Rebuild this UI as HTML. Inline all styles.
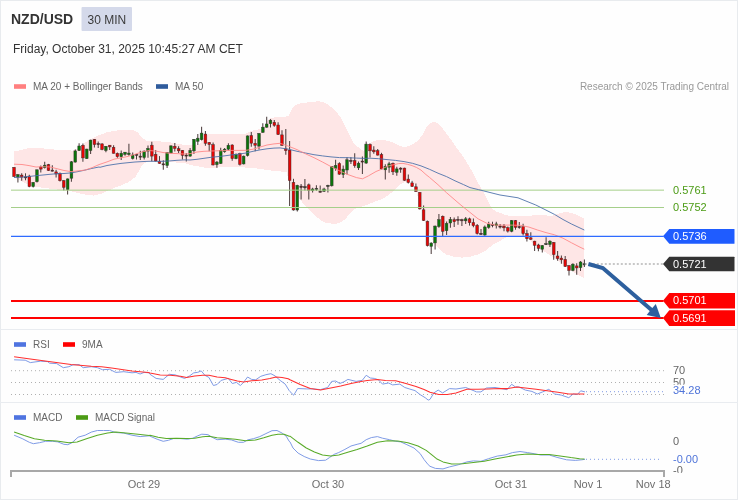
<!DOCTYPE html>
<html><head><meta charset="utf-8"><title>NZD/USD</title>
<style>
html,body{margin:0;padding:0;background:#fff;}
svg{display:block}
text{font-family:"Liberation Sans", Arial, sans-serif;}
svg{will-change:transform;opacity:0.999}
</style></head><body>
<svg width="738" height="500" viewBox="0 0 738 500">
<defs><clipPath id="cm"><rect x="0" y="403" width="738" height="69.8"/></clipPath></defs>
<rect x="0" y="0" width="738" height="500" fill="#fefefe"/>
<rect x="0.5" y="0.5" width="737" height="499" fill="none" stroke="#e8ebee" stroke-width="1"/>

<text x="11" y="24" font-size="14" font-weight="bold" fill="#333">NZD/USD</text>
<rect x="81.5" y="7" width="50.5" height="24" rx="1" fill="#d4d9ea"/>
<text x="87.5" y="23.5" font-size="12" fill="#3a3a3a">30 MIN</text>
<text x="13" y="53" font-size="12" fill="#333">Friday, October 31, 2025 10:45:27 AM CET</text>
<rect x="14" y="84.2" width="12" height="4.6" fill="#ff7f7f"/>
<text x="33" y="90" font-size="10" fill="#666">MA 20 + Bollinger Bands</text>
<rect x="156" y="84.2" width="12" height="4.6" fill="#2f5b9c"/>
<text x="175" y="90" font-size="10" fill="#666">MA 50</text>
<text x="729" y="90" font-size="10" fill="#999" text-anchor="end">Research © 2025 Trading Central</text>
<path d="M14.1 151 L19.5 150.5 L24.4 149 L28 148.2 L34 147.9 L40 148 L49.5 149.2 L59 149.9 L68.5 150.4 L73.2 150.6 L78 148.3 L86.7 141.4 L97.6 135.6 L107 132.3 L114 130.9 L121 130.1 L128 129.8 L133.6 130.2 L137.8 132.6 L142 137.5 L146.2 140.7 L156 141 L170 142.4 L184 144.9 L197 145.5 L200 144 L204 137 L208 134.5 L215 134 L225.9 133.6 L236.7 133.6 L245.4 133.8 L250 131.5 L255 130 L260 129 L263 128.5 L265.5 125 L268 120.5 L270.5 118 L276 117.2 L283 116.8 L287.5 116.3 L288.6 116 L290.6 111.3 L293.8 106.1 L297.9 103.9 L304.4 102.8 L312.5 101.8 L319 101.2 L323.9 102.3 L327.2 103.9 L332 107.7 L335.3 110.4 L338.5 114.5 L341.8 119.4 L345 125.9 L348.3 132.4 L350.7 137.6 L353.2 142.2 L355.6 145.1 L358 147 L361.3 149.5 L363.7 151 L366.2 147 L368.6 143.8 L371 142.2 L375.9 140.4 L380.8 140.2 L385.7 140.5 L393.8 142.6 L399.9 146.1 L404.8 147.1 L411.3 145 L417.8 140.9 L422.6 134.4 L426.7 127.1 L430 123.3 L434 121.7 L438.1 123.3 L442.2 127.9 L447 134.4 L451.9 140.9 L456.8 148.2 L461.7 154.7 L466.5 162 L471.4 170.2 L476.3 179.9 L481.2 188 L482.6 190.6 L487.9 201.1 L492.3 209 L496.7 211.7 L503.7 214.3 L510.8 216.1 L517.8 216.1 L526.6 216.1 L535.4 215.2 L544.2 215.2 L551.3 216.1 L556.5 214.3 L563.6 212.2 L570.6 212.6 L577.7 215.2 L584.4 218.5 L584.5 278.7 L575.5 273.3 L564.7 265 L554 258 L543 250.7 L536 245.3 L528.7 239.5 L520 236 L509.1 236.5 L504.2 238.1 L499.3 241.3 L492.8 244.6 L486.3 250.3 L478.2 254.3 L470 256.8 L461.9 257.6 L453.8 256.8 L445.7 254.3 L441.6 251.1 L437.5 247 L433.4 242 L428 231 L422.6 213 L417.2 195 L415 185 L412.5 180 L408 180.6 L405.2 181.8 L401.4 183.7 L397.6 186.6 L392 192.3 L389.1 194.5 L384.4 198 L374.9 201.7 L365.4 205.5 L355.9 208.4 L353 210.3 L350.2 213.1 L347.4 216.5 L344.5 219.8 L340.7 222.2 L336.9 223.6 L331.2 223.6 L325.5 222.6 L321.7 220.7 L318 217.9 L313.2 214.1 L308.5 209.3 L300.9 200.8 L296 194.5 L291.4 186.6 L288.5 179 L286.6 172.5 L280.1 171.3 L269.2 170.4 L258.4 168.7 L247.6 167.6 L236.7 167.2 L225.9 167.2 L215 167.6 L204.2 167.6 L193.4 165.5 L184 163.1 L170 162 L156 161.7 L146.2 162 L142 165.5 L139.2 170.4 L135 177.4 L128 182.3 L121 185.5 L114 188 L108.4 190.5 L101.9 193.5 L93.2 195.6 L82.4 194.1 L71.5 191.3 L54.2 189.1 L36.9 187 L32 185.8 L26 183.5 L20 180.5 L14.1 177.5 Z" fill="#fee6e6" stroke="none" shape-rendering="crispEdges"/>
<line x1="14" x2="14" y1="167" y2="176.8" stroke="#4f4040" stroke-width="1.05"/>
<rect x="12.7" y="167.4" width="2.7" height="9.1" fill="#e60505" stroke="#332a2a" stroke-width="0.55" stroke-opacity="0.8"/>
<line x1="17.9" x2="17.9" y1="174" y2="182.4" stroke="#4f4040" stroke-width="1.05"/>
<rect x="16.5" y="174.7" width="2.7" height="2.4" fill="#0a750a" stroke="#332a2a" stroke-width="0.55" stroke-opacity="0.8"/>
<line x1="21.7" x2="21.7" y1="173.3" y2="180.7" stroke="#4f4040" stroke-width="1.05"/>
<rect x="20.3" y="175.1" width="2.7" height="2" fill="#e60505" stroke="#332a2a" stroke-width="0.55" stroke-opacity="0.8"/>
<line x1="25.5" x2="25.5" y1="173.3" y2="180.3" stroke="#4f4040" stroke-width="1.05"/>
<rect x="24.2" y="176.8" width="2.7" height="1.1" fill="#5a2626" stroke="#332a2a" stroke-width="0.55" stroke-opacity="0.8"/>
<line x1="29.3" x2="29.3" y1="174.7" y2="187.3" stroke="#4f4040" stroke-width="1.05"/>
<rect x="28" y="176.1" width="2.7" height="10.5" fill="#e60505" stroke="#332a2a" stroke-width="0.55" stroke-opacity="0.8"/>
<line x1="33.2" x2="33.2" y1="182.1" y2="187.6" stroke="#4f4040" stroke-width="1.05"/>
<rect x="31.8" y="182.4" width="2.7" height="4.2" fill="#0a750a" stroke="#332a2a" stroke-width="0.55" stroke-opacity="0.8"/>
<line x1="37" x2="37" y1="169.5" y2="182.4" stroke="#4f4040" stroke-width="1.05"/>
<rect x="35.6" y="169.8" width="2.7" height="11.9" fill="#0a750a" stroke="#332a2a" stroke-width="0.55" stroke-opacity="0.8"/>
<line x1="40.8" x2="40.8" y1="165.6" y2="172.6" stroke="#4f4040" stroke-width="1.05"/>
<rect x="39.5" y="167" width="2.7" height="2.1" fill="#e60505" stroke="#332a2a" stroke-width="0.55" stroke-opacity="0.8"/>
<line x1="44.7" x2="44.7" y1="161.7" y2="168.4" stroke="#4f4040" stroke-width="1.05"/>
<rect x="43.3" y="165.2" width="2.7" height="2.5" fill="#0a750a" stroke="#332a2a" stroke-width="0.55" stroke-opacity="0.8"/>
<line x1="48.5" x2="48.5" y1="163.9" y2="170.9" stroke="#4f4040" stroke-width="1.05"/>
<rect x="47.1" y="164.6" width="2.7" height="5.9" fill="#e60505" stroke="#332a2a" stroke-width="0.55" stroke-opacity="0.8"/>
<line x1="52.3" x2="52.3" y1="165.3" y2="171.5" stroke="#4f4040" stroke-width="1.05"/>
<rect x="51" y="170.1" width="2.7" height="1.1" fill="#5a2626" stroke="#332a2a" stroke-width="0.55" stroke-opacity="0.8"/>
<line x1="56.1" x2="56.1" y1="169.8" y2="177.5" stroke="#4f4040" stroke-width="1.05"/>
<rect x="54.8" y="171.9" width="2.7" height="2.1" fill="#e60505" stroke="#332a2a" stroke-width="0.55" stroke-opacity="0.8"/>
<line x1="60" x2="60" y1="172.6" y2="181.4" stroke="#4f4040" stroke-width="1.05"/>
<rect x="58.6" y="173.3" width="2.7" height="7.4" fill="#e60505" stroke="#332a2a" stroke-width="0.55" stroke-opacity="0.8"/>
<line x1="63.8" x2="63.8" y1="180" y2="190.5" stroke="#4f4040" stroke-width="1.05"/>
<rect x="62.4" y="180.7" width="2.7" height="6.6" fill="#e60505" stroke="#332a2a" stroke-width="0.55" stroke-opacity="0.8"/>
<line x1="67.6" x2="67.6" y1="178.6" y2="194.6" stroke="#4f4040" stroke-width="1.05"/>
<rect x="66.3" y="178.9" width="2.7" height="10.8" fill="#0a750a" stroke="#332a2a" stroke-width="0.55" stroke-opacity="0.8"/>
<line x1="71.4" x2="71.4" y1="161.1" y2="181.7" stroke="#4f4040" stroke-width="1.05"/>
<rect x="70.1" y="161.8" width="2.7" height="16.4" fill="#0a750a" stroke="#332a2a" stroke-width="0.55" stroke-opacity="0.8"/>
<line x1="75.3" x2="75.3" y1="149.5" y2="162.5" stroke="#4f4040" stroke-width="1.05"/>
<rect x="73.9" y="150.9" width="2.7" height="11.2" fill="#0a750a" stroke="#332a2a" stroke-width="0.55" stroke-opacity="0.8"/>
<line x1="79.1" x2="79.1" y1="143.2" y2="150.9" stroke="#4f4040" stroke-width="1.05"/>
<rect x="77.8" y="146" width="2.7" height="4.5" fill="#0a750a" stroke="#332a2a" stroke-width="0.55" stroke-opacity="0.8"/>
<line x1="82.9" x2="82.9" y1="143.5" y2="161.7" stroke="#4f4040" stroke-width="1.05"/>
<rect x="81.6" y="145.3" width="2.7" height="12.6" fill="#e60505" stroke="#332a2a" stroke-width="0.55" stroke-opacity="0.8"/>
<line x1="86.8" x2="86.8" y1="148.8" y2="159" stroke="#4f4040" stroke-width="1.05"/>
<rect x="85.4" y="149.1" width="2.7" height="9.5" fill="#0a750a" stroke="#332a2a" stroke-width="0.55" stroke-opacity="0.8"/>
<line x1="90.6" x2="90.6" y1="139.8" y2="154" stroke="#4f4040" stroke-width="1.05"/>
<rect x="89.2" y="140.1" width="2.7" height="10.4" fill="#0a750a" stroke="#332a2a" stroke-width="0.55" stroke-opacity="0.8"/>
<line x1="94.4" x2="94.4" y1="139" y2="147.4" stroke="#4f4040" stroke-width="1.05"/>
<rect x="93.1" y="139.4" width="2.7" height="5.2" fill="#e60505" stroke="#332a2a" stroke-width="0.55" stroke-opacity="0.8"/>
<line x1="98.2" x2="98.2" y1="141.4" y2="148.1" stroke="#4f4040" stroke-width="1.05"/>
<rect x="96.9" y="143.5" width="2.7" height="1.1" fill="#5a2626" stroke="#332a2a" stroke-width="0.55" stroke-opacity="0.8"/>
<line x1="102.1" x2="102.1" y1="143.2" y2="150.2" stroke="#4f4040" stroke-width="1.05"/>
<rect x="100.7" y="143.9" width="2.7" height="5.6" fill="#e60505" stroke="#332a2a" stroke-width="0.55" stroke-opacity="0.8"/>
<line x1="105.9" x2="105.9" y1="146" y2="152.3" stroke="#4f4040" stroke-width="1.05"/>
<rect x="104.5" y="146.3" width="2.7" height="4.2" fill="#0a750a" stroke="#332a2a" stroke-width="0.55" stroke-opacity="0.8"/>
<line x1="109.7" x2="109.7" y1="144.9" y2="150.1" stroke="#4f4040" stroke-width="1.05"/>
<rect x="108.4" y="145.2" width="2.7" height="1.7" fill="#e60505" stroke="#332a2a" stroke-width="0.55" stroke-opacity="0.8"/>
<line x1="113.6" x2="113.6" y1="145.2" y2="153.6" stroke="#4f4040" stroke-width="1.05"/>
<rect x="112.2" y="147.3" width="2.7" height="6" fill="#e60505" stroke="#332a2a" stroke-width="0.55" stroke-opacity="0.8"/>
<line x1="117.4" x2="117.4" y1="152.5" y2="157.8" stroke="#4f4040" stroke-width="1.05"/>
<rect x="116" y="153.3" width="2.7" height="3.4" fill="#e60505" stroke="#332a2a" stroke-width="0.55" stroke-opacity="0.8"/>
<line x1="121.2" x2="121.2" y1="150.5" y2="159.9" stroke="#4f4040" stroke-width="1.05"/>
<rect x="119.9" y="153.3" width="2.7" height="3.4" fill="#0a750a" stroke="#332a2a" stroke-width="0.55" stroke-opacity="0.8"/>
<line x1="125" x2="125" y1="151.9" y2="155.7" stroke="#4f4040" stroke-width="1.05"/>
<rect x="123.7" y="152.2" width="2.7" height="2.1" fill="#0a750a" stroke="#332a2a" stroke-width="0.55" stroke-opacity="0.8"/>
<line x1="128.9" x2="128.9" y1="143.8" y2="155.7" stroke="#4f4040" stroke-width="1.05"/>
<rect x="127.5" y="153.1" width="2.7" height="1.4" fill="#0a750a" stroke="#332a2a" stroke-width="0.55" stroke-opacity="0.8"/>
<line x1="132.7" x2="132.7" y1="152.5" y2="159.5" stroke="#4f4040" stroke-width="1.05"/>
<rect x="131.3" y="155" width="2.7" height="3.5" fill="#0a750a" stroke="#332a2a" stroke-width="0.55" stroke-opacity="0.8"/>
<line x1="136.5" x2="136.5" y1="153.9" y2="159.5" stroke="#4f4040" stroke-width="1.05"/>
<rect x="135.2" y="154.3" width="2.7" height="1.1" fill="#5a2626" stroke="#332a2a" stroke-width="0.55" stroke-opacity="0.8"/>
<line x1="140.3" x2="140.3" y1="150.8" y2="159.9" stroke="#4f4040" stroke-width="1.05"/>
<rect x="139" y="156.1" width="2.7" height="1.1" fill="#5a2626" stroke="#332a2a" stroke-width="0.55" stroke-opacity="0.8"/>
<line x1="144.2" x2="144.2" y1="150.5" y2="159.6" stroke="#4f4040" stroke-width="1.05"/>
<rect x="142.8" y="151.1" width="2.7" height="6.4" fill="#0a750a" stroke="#332a2a" stroke-width="0.55" stroke-opacity="0.8"/>
<line x1="148" x2="148" y1="145.5" y2="157.8" stroke="#4f4040" stroke-width="1.05"/>
<rect x="146.6" y="148.4" width="2.7" height="2.7" fill="#0a750a" stroke="#332a2a" stroke-width="0.55" stroke-opacity="0.8"/>
<line x1="151.8" x2="151.8" y1="141.7" y2="161.3" stroke="#4f4040" stroke-width="1.05"/>
<rect x="150.5" y="145.2" width="2.7" height="10.9" fill="#e60505" stroke="#332a2a" stroke-width="0.55" stroke-opacity="0.8"/>
<line x1="155.7" x2="155.7" y1="150.1" y2="161.5" stroke="#4f4040" stroke-width="1.05"/>
<rect x="154.3" y="154.3" width="2.7" height="6.7" fill="#e60505" stroke="#332a2a" stroke-width="0.55" stroke-opacity="0.8"/>
<line x1="159.5" x2="159.5" y1="156.1" y2="163.7" stroke="#4f4040" stroke-width="1.05"/>
<rect x="158.1" y="161.3" width="2.7" height="2.1" fill="#e60505" stroke="#332a2a" stroke-width="0.55" stroke-opacity="0.8"/>
<line x1="163.3" x2="163.3" y1="160.3" y2="169.7" stroke="#4f4040" stroke-width="1.05"/>
<rect x="162" y="163.8" width="2.7" height="1.1" fill="#5a2626" stroke="#332a2a" stroke-width="0.55" stroke-opacity="0.8"/>
<line x1="167.1" x2="167.1" y1="152.2" y2="167.9" stroke="#4f4040" stroke-width="1.05"/>
<rect x="165.8" y="152.5" width="2.7" height="13" fill="#0a750a" stroke="#332a2a" stroke-width="0.55" stroke-opacity="0.8"/>
<line x1="171" x2="171" y1="145.2" y2="153.6" stroke="#4f4040" stroke-width="1.05"/>
<rect x="169.6" y="145.9" width="2.7" height="7" fill="#0a750a" stroke="#332a2a" stroke-width="0.55" stroke-opacity="0.8"/>
<line x1="174.8" x2="174.8" y1="143.1" y2="151.5" stroke="#4f4040" stroke-width="1.05"/>
<rect x="173.4" y="146.3" width="2.7" height="2.1" fill="#e60505" stroke="#332a2a" stroke-width="0.55" stroke-opacity="0.8"/>
<line x1="178.6" x2="178.6" y1="146.3" y2="152.9" stroke="#4f4040" stroke-width="1.05"/>
<rect x="177.3" y="148.7" width="2.7" height="2.1" fill="#e60505" stroke="#332a2a" stroke-width="0.55" stroke-opacity="0.8"/>
<line x1="182.4" x2="182.4" y1="150.1" y2="159.5" stroke="#4f4040" stroke-width="1.05"/>
<rect x="181.1" y="150.4" width="2.7" height="4.9" fill="#e60505" stroke="#332a2a" stroke-width="0.55" stroke-opacity="0.8"/>
<line x1="186.3" x2="186.3" y1="152.9" y2="161.6" stroke="#4f4040" stroke-width="1.05"/>
<rect x="184.9" y="155" width="2.7" height="1.1" fill="#5a2626" stroke="#332a2a" stroke-width="0.55" stroke-opacity="0.8"/>
<line x1="190.1" x2="190.1" y1="148" y2="156.8" stroke="#4f4040" stroke-width="1.05"/>
<rect x="188.8" y="150.4" width="2.7" height="5.7" fill="#0a750a" stroke="#332a2a" stroke-width="0.55" stroke-opacity="0.8"/>
<line x1="193.9" x2="193.9" y1="139" y2="153.9" stroke="#4f4040" stroke-width="1.05"/>
<rect x="192.6" y="139.3" width="2.7" height="11.5" fill="#0a750a" stroke="#332a2a" stroke-width="0.55" stroke-opacity="0.8"/>
<line x1="197.8" x2="197.8" y1="134" y2="144.9" stroke="#4f4040" stroke-width="1.05"/>
<rect x="196.4" y="138.2" width="2.7" height="3.1" fill="#0a750a" stroke="#332a2a" stroke-width="0.55" stroke-opacity="0.8"/>
<line x1="201.6" x2="201.6" y1="126.8" y2="140.5" stroke="#4f4040" stroke-width="1.05"/>
<rect x="200.2" y="133.1" width="2.7" height="6.6" fill="#0a750a" stroke="#332a2a" stroke-width="0.55" stroke-opacity="0.8"/>
<line x1="205.4" x2="205.4" y1="131" y2="145.7" stroke="#4f4040" stroke-width="1.05"/>
<rect x="204.1" y="134.1" width="2.7" height="9.2" fill="#e60505" stroke="#332a2a" stroke-width="0.55" stroke-opacity="0.8"/>
<line x1="209.2" x2="209.2" y1="141.9" y2="151.3" stroke="#4f4040" stroke-width="1.05"/>
<rect x="207.9" y="142.5" width="2.7" height="2" fill="#e60505" stroke="#332a2a" stroke-width="0.55" stroke-opacity="0.8"/>
<line x1="213.1" x2="213.1" y1="142.5" y2="165.5" stroke="#4f4040" stroke-width="1.05"/>
<rect x="211.7" y="144.7" width="2.7" height="20.2" fill="#e60505" stroke="#332a2a" stroke-width="0.55" stroke-opacity="0.8"/>
<line x1="216.9" x2="216.9" y1="161.1" y2="167.7" stroke="#4f4040" stroke-width="1.05"/>
<rect x="215.5" y="162.1" width="2.7" height="2.5" fill="#0a750a" stroke="#332a2a" stroke-width="0.55" stroke-opacity="0.8"/>
<line x1="220.7" x2="220.7" y1="147.8" y2="163.9" stroke="#4f4040" stroke-width="1.05"/>
<rect x="219.4" y="150.3" width="2.7" height="13.2" fill="#0a750a" stroke="#332a2a" stroke-width="0.55" stroke-opacity="0.8"/>
<line x1="224.6" x2="224.6" y1="148.1" y2="152.7" stroke="#4f4040" stroke-width="1.05"/>
<rect x="223.2" y="149.2" width="2.7" height="2.5" fill="#0a750a" stroke="#332a2a" stroke-width="0.55" stroke-opacity="0.8"/>
<line x1="228.4" x2="228.4" y1="143.3" y2="150.6" stroke="#4f4040" stroke-width="1.05"/>
<rect x="227" y="145.3" width="2.7" height="3.9" fill="#0a750a" stroke="#332a2a" stroke-width="0.55" stroke-opacity="0.8"/>
<line x1="232.2" x2="232.2" y1="144.3" y2="160.7" stroke="#4f4040" stroke-width="1.05"/>
<rect x="230.9" y="145" width="2.7" height="13.6" fill="#e60505" stroke="#332a2a" stroke-width="0.55" stroke-opacity="0.8"/>
<line x1="236" x2="236" y1="153.4" y2="159.3" stroke="#4f4040" stroke-width="1.05"/>
<rect x="234.7" y="154.5" width="2.7" height="4.2" fill="#0a750a" stroke="#332a2a" stroke-width="0.55" stroke-opacity="0.8"/>
<line x1="239.9" x2="239.9" y1="152.7" y2="165.6" stroke="#4f4040" stroke-width="1.05"/>
<rect x="238.5" y="153.7" width="2.7" height="10.6" fill="#e60505" stroke="#332a2a" stroke-width="0.55" stroke-opacity="0.8"/>
<line x1="243.7" x2="243.7" y1="155.5" y2="164.6" stroke="#4f4040" stroke-width="1.05"/>
<rect x="242.3" y="156.2" width="2.7" height="7.7" fill="#0a750a" stroke="#332a2a" stroke-width="0.55" stroke-opacity="0.8"/>
<line x1="247.5" x2="247.5" y1="135.5" y2="156.5" stroke="#4f4040" stroke-width="1.05"/>
<rect x="246.2" y="135.9" width="2.7" height="19.6" fill="#0a750a" stroke="#332a2a" stroke-width="0.55" stroke-opacity="0.8"/>
<line x1="251.3" x2="251.3" y1="132" y2="146.7" stroke="#4f4040" stroke-width="1.05"/>
<rect x="250" y="135.5" width="2.7" height="7.7" fill="#e60505" stroke="#332a2a" stroke-width="0.55" stroke-opacity="0.8"/>
<line x1="255.2" x2="255.2" y1="139.1" y2="151.3" stroke="#4f4040" stroke-width="1.05"/>
<rect x="253.8" y="143.3" width="2.7" height="2" fill="#e60505" stroke="#332a2a" stroke-width="0.55" stroke-opacity="0.8"/>
<line x1="259" x2="259" y1="133.1" y2="149.5" stroke="#4f4040" stroke-width="1.05"/>
<rect x="257.7" y="133.5" width="2.7" height="12.6" fill="#0a750a" stroke="#332a2a" stroke-width="0.55" stroke-opacity="0.8"/>
<line x1="262.8" x2="262.8" y1="123.3" y2="132.8" stroke="#4f4040" stroke-width="1.05"/>
<rect x="261.5" y="127.2" width="2.7" height="5.2" fill="#0a750a" stroke="#332a2a" stroke-width="0.55" stroke-opacity="0.8"/>
<line x1="266.7" x2="266.7" y1="116.7" y2="127.8" stroke="#4f4040" stroke-width="1.05"/>
<rect x="265.3" y="124" width="2.7" height="3.2" fill="#0a750a" stroke="#332a2a" stroke-width="0.55" stroke-opacity="0.8"/>
<line x1="270.5" x2="270.5" y1="119.1" y2="127.5" stroke="#4f4040" stroke-width="1.05"/>
<rect x="269.1" y="120.2" width="2.7" height="3.5" fill="#0a750a" stroke="#332a2a" stroke-width="0.55" stroke-opacity="0.8"/>
<line x1="274.3" x2="274.3" y1="120.1" y2="126.8" stroke="#4f4040" stroke-width="1.05"/>
<rect x="273" y="122.3" width="2.7" height="3.1" fill="#e60505" stroke="#332a2a" stroke-width="0.55" stroke-opacity="0.8"/>
<line x1="278.1" x2="278.1" y1="122.3" y2="134.9" stroke="#4f4040" stroke-width="1.05"/>
<rect x="276.8" y="125" width="2.7" height="9.5" fill="#e60505" stroke="#332a2a" stroke-width="0.55" stroke-opacity="0.8"/>
<line x1="282" x2="282" y1="130.3" y2="146.1" stroke="#4f4040" stroke-width="1.05"/>
<rect x="280.6" y="134.9" width="2.7" height="10.4" fill="#e60505" stroke="#332a2a" stroke-width="0.55" stroke-opacity="0.8"/>
<line x1="285.8" x2="285.8" y1="128.9" y2="154.8" stroke="#4f4040" stroke-width="1.05"/>
<rect x="284.4" y="148.9" width="2.7" height="1.7" fill="#e60505" stroke="#332a2a" stroke-width="0.55" stroke-opacity="0.8"/>
<line x1="289.6" x2="289.6" y1="141.1" y2="206" stroke="#4f4040" stroke-width="1.05"/>
<rect x="288.3" y="150.1" width="2.7" height="30.4" fill="#e60505" stroke="#332a2a" stroke-width="0.55" stroke-opacity="0.8"/>
<line x1="293.5" x2="293.5" y1="178.8" y2="210.6" stroke="#4f4040" stroke-width="1.05"/>
<rect x="292.1" y="182.4" width="2.7" height="27.6" fill="#e60505" stroke="#332a2a" stroke-width="0.55" stroke-opacity="0.8"/>
<line x1="297.3" x2="297.3" y1="184.8" y2="211.6" stroke="#4f4040" stroke-width="1.05"/>
<rect x="295.9" y="185.3" width="2.7" height="24.7" fill="#0a750a" stroke="#332a2a" stroke-width="0.55" stroke-opacity="0.8"/>
<line x1="301.1" x2="301.1" y1="184.1" y2="199.4" stroke="#4f4040" stroke-width="1.05"/>
<rect x="299.8" y="186.1" width="2.7" height="1.4" fill="#5a2626" stroke="#332a2a" stroke-width="0.55" stroke-opacity="0.8"/>
<line x1="304.9" x2="304.9" y1="179" y2="190.4" stroke="#4f4040" stroke-width="1.05"/>
<rect x="303.6" y="186.6" width="2.7" height="1.2" fill="#2c4a2c" stroke="#332a2a" stroke-width="0.55" stroke-opacity="0.8"/>
<line x1="308.8" x2="308.8" y1="183.6" y2="199.4" stroke="#4f4040" stroke-width="1.05"/>
<rect x="307.4" y="184.8" width="2.7" height="5.6" fill="#e60505" stroke="#332a2a" stroke-width="0.55" stroke-opacity="0.8"/>
<line x1="312.6" x2="312.6" y1="187.8" y2="192.4" stroke="#4f4040" stroke-width="1.05"/>
<rect x="311.2" y="189" width="2.7" height="1.7" fill="#0a750a" stroke="#332a2a" stroke-width="0.55" stroke-opacity="0.8"/>
<line x1="316.4" x2="316.4" y1="185.3" y2="190.9" stroke="#4f4040" stroke-width="1.05"/>
<rect x="315.1" y="188.3" width="2.7" height="1.1" fill="#2c4a2c" stroke="#332a2a" stroke-width="0.55" stroke-opacity="0.8"/>
<line x1="320.2" x2="320.2" y1="185.6" y2="192.6" stroke="#4f4040" stroke-width="1.05"/>
<rect x="318.9" y="191.2" width="2.7" height="1.1" fill="#5a2626" stroke="#332a2a" stroke-width="0.55" stroke-opacity="0.8"/>
<line x1="324.1" x2="324.1" y1="187.8" y2="192.1" stroke="#4f4040" stroke-width="1.05"/>
<rect x="322.7" y="189" width="2.7" height="2.2" fill="#0a750a" stroke="#332a2a" stroke-width="0.55" stroke-opacity="0.8"/>
<line x1="327.9" x2="327.9" y1="184.8" y2="192.6" stroke="#4f4040" stroke-width="1.05"/>
<rect x="326.6" y="185.3" width="2.7" height="1.2" fill="#2c4a2c" stroke="#332a2a" stroke-width="0.55" stroke-opacity="0.8"/>
<line x1="331.7" x2="331.7" y1="166.1" y2="186.5" stroke="#4f4040" stroke-width="1.05"/>
<rect x="330.4" y="166.6" width="2.7" height="19.2" fill="#0a750a" stroke="#332a2a" stroke-width="0.55" stroke-opacity="0.8"/>
<line x1="335.6" x2="335.6" y1="159.8" y2="170.8" stroke="#4f4040" stroke-width="1.05"/>
<rect x="334.2" y="165.4" width="2.7" height="2.9" fill="#0a750a" stroke="#332a2a" stroke-width="0.55" stroke-opacity="0.8"/>
<line x1="339.4" x2="339.4" y1="162.3" y2="174.7" stroke="#4f4040" stroke-width="1.05"/>
<rect x="338" y="163.5" width="2.7" height="10.7" fill="#e60505" stroke="#332a2a" stroke-width="0.55" stroke-opacity="0.8"/>
<line x1="343.2" x2="343.2" y1="165.4" y2="178" stroke="#4f4040" stroke-width="1.05"/>
<rect x="341.9" y="169.1" width="2.7" height="5.4" fill="#0a750a" stroke="#332a2a" stroke-width="0.55" stroke-opacity="0.8"/>
<line x1="347" x2="347" y1="157.2" y2="174.6" stroke="#4f4040" stroke-width="1.05"/>
<rect x="345.7" y="159.8" width="2.7" height="10.2" fill="#0a750a" stroke="#332a2a" stroke-width="0.55" stroke-opacity="0.8"/>
<line x1="350.9" x2="350.9" y1="157.2" y2="164" stroke="#4f4040" stroke-width="1.05"/>
<rect x="349.5" y="160.3" width="2.7" height="1.2" fill="#5a2626" stroke="#332a2a" stroke-width="0.55" stroke-opacity="0.8"/>
<line x1="354.7" x2="354.7" y1="153.3" y2="167.8" stroke="#4f4040" stroke-width="1.05"/>
<rect x="353.3" y="160.6" width="2.7" height="5.1" fill="#e60505" stroke="#332a2a" stroke-width="0.55" stroke-opacity="0.8"/>
<line x1="358.5" x2="358.5" y1="161.5" y2="170" stroke="#4f4040" stroke-width="1.05"/>
<rect x="357.2" y="163.2" width="2.7" height="4.6" fill="#0a750a" stroke="#332a2a" stroke-width="0.55" stroke-opacity="0.8"/>
<line x1="362.4" x2="362.4" y1="156.4" y2="173.9" stroke="#4f4040" stroke-width="1.05"/>
<rect x="361" y="161" width="2.7" height="1.1" fill="#5a2626" stroke="#332a2a" stroke-width="0.55" stroke-opacity="0.8"/>
<line x1="366.2" x2="366.2" y1="141.6" y2="163.7" stroke="#4f4040" stroke-width="1.05"/>
<rect x="364.8" y="144.1" width="2.7" height="19" fill="#0a750a" stroke="#332a2a" stroke-width="0.55" stroke-opacity="0.8"/>
<line x1="370" x2="370" y1="143.6" y2="157.4" stroke="#4f4040" stroke-width="1.05"/>
<rect x="368.7" y="144.5" width="2.7" height="6.3" fill="#e60505" stroke="#332a2a" stroke-width="0.55" stroke-opacity="0.8"/>
<line x1="373.8" x2="373.8" y1="146.2" y2="153.8" stroke="#4f4040" stroke-width="1.05"/>
<rect x="372.5" y="150.1" width="2.7" height="1.7" fill="#e60505" stroke="#332a2a" stroke-width="0.55" stroke-opacity="0.8"/>
<line x1="377.7" x2="377.7" y1="149" y2="155.5" stroke="#4f4040" stroke-width="1.05"/>
<rect x="376.3" y="150.7" width="2.7" height="4.4" fill="#e60505" stroke="#332a2a" stroke-width="0.55" stroke-opacity="0.8"/>
<line x1="381.5" x2="381.5" y1="152.8" y2="169.4" stroke="#4f4040" stroke-width="1.05"/>
<rect x="380.1" y="154.5" width="2.7" height="14.5" fill="#e60505" stroke="#332a2a" stroke-width="0.55" stroke-opacity="0.8"/>
<line x1="385.3" x2="385.3" y1="164.3" y2="179.5" stroke="#4f4040" stroke-width="1.05"/>
<rect x="384" y="166.4" width="2.7" height="3.4" fill="#0a750a" stroke="#332a2a" stroke-width="0.55" stroke-opacity="0.8"/>
<line x1="389.1" x2="389.1" y1="161.8" y2="172.7" stroke="#4f4040" stroke-width="1.05"/>
<rect x="387.8" y="163.8" width="2.7" height="3.4" fill="#0a750a" stroke="#332a2a" stroke-width="0.55" stroke-opacity="0.8"/>
<line x1="393" x2="393" y1="162.4" y2="174.9" stroke="#4f4040" stroke-width="1.05"/>
<rect x="391.6" y="163.3" width="2.7" height="8.5" fill="#e60505" stroke="#332a2a" stroke-width="0.55" stroke-opacity="0.8"/>
<line x1="396.8" x2="396.8" y1="166.7" y2="175.7" stroke="#4f4040" stroke-width="1.05"/>
<rect x="395.4" y="168.9" width="2.7" height="3.4" fill="#0a750a" stroke="#332a2a" stroke-width="0.55" stroke-opacity="0.8"/>
<line x1="400.6" x2="400.6" y1="167.2" y2="172.7" stroke="#4f4040" stroke-width="1.05"/>
<rect x="399.3" y="168.1" width="2.7" height="1.1" fill="#5a2626" stroke="#332a2a" stroke-width="0.55" stroke-opacity="0.8"/>
<line x1="404.5" x2="404.5" y1="167.7" y2="180.8" stroke="#4f4040" stroke-width="1.05"/>
<rect x="403.1" y="168.1" width="2.7" height="12.2" fill="#e60505" stroke="#332a2a" stroke-width="0.55" stroke-opacity="0.8"/>
<line x1="408.3" x2="408.3" y1="174.4" y2="183.4" stroke="#4f4040" stroke-width="1.05"/>
<rect x="406.9" y="179.1" width="2.7" height="3.4" fill="#e60505" stroke="#332a2a" stroke-width="0.55" stroke-opacity="0.8"/>
<line x1="412.1" x2="412.1" y1="180.8" y2="187.1" stroke="#4f4040" stroke-width="1.05"/>
<rect x="410.8" y="182.9" width="2.7" height="3.6" fill="#e60505" stroke="#332a2a" stroke-width="0.55" stroke-opacity="0.8"/>
<line x1="415.9" x2="415.9" y1="183.4" y2="191.9" stroke="#4f4040" stroke-width="1.05"/>
<rect x="414.6" y="186.8" width="2.7" height="4.6" fill="#e60505" stroke="#332a2a" stroke-width="0.55" stroke-opacity="0.8"/>
<line x1="419.8" x2="419.8" y1="191.9" y2="209.4" stroke="#4f4040" stroke-width="1.05"/>
<rect x="418.4" y="192.4" width="2.7" height="16.5" fill="#e60505" stroke="#332a2a" stroke-width="0.55" stroke-opacity="0.8"/>
<line x1="423.6" x2="423.6" y1="205.5" y2="221" stroke="#4f4040" stroke-width="1.05"/>
<rect x="422.2" y="209.8" width="2.7" height="10.7" fill="#e60505" stroke="#332a2a" stroke-width="0.55" stroke-opacity="0.8"/>
<line x1="427.4" x2="427.4" y1="220.5" y2="246.4" stroke="#4f4040" stroke-width="1.05"/>
<rect x="426.1" y="221.4" width="2.7" height="24.3" fill="#e60505" stroke="#332a2a" stroke-width="0.55" stroke-opacity="0.8"/>
<line x1="431.2" x2="431.2" y1="242.3" y2="254" stroke="#4f4040" stroke-width="1.05"/>
<rect x="429.9" y="243.1" width="2.7" height="3.2" fill="#0a750a" stroke="#332a2a" stroke-width="0.55" stroke-opacity="0.8"/>
<line x1="435.1" x2="435.1" y1="225.6" y2="249.4" stroke="#4f4040" stroke-width="1.05"/>
<rect x="433.7" y="226.1" width="2.7" height="16.8" fill="#0a750a" stroke="#332a2a" stroke-width="0.55" stroke-opacity="0.8"/>
<line x1="438.9" x2="438.9" y1="214" y2="227.7" stroke="#4f4040" stroke-width="1.05"/>
<rect x="437.6" y="219.7" width="2.7" height="6.8" fill="#0a750a" stroke="#332a2a" stroke-width="0.55" stroke-opacity="0.8"/>
<line x1="442.7" x2="442.7" y1="215.4" y2="236.2" stroke="#4f4040" stroke-width="1.05"/>
<rect x="441.4" y="216.3" width="2.7" height="15" fill="#e60505" stroke="#332a2a" stroke-width="0.55" stroke-opacity="0.8"/>
<line x1="446.6" x2="446.6" y1="221.4" y2="235" stroke="#4f4040" stroke-width="1.05"/>
<rect x="445.2" y="223.4" width="2.7" height="7.3" fill="#0a750a" stroke="#332a2a" stroke-width="0.55" stroke-opacity="0.8"/>
<line x1="450.4" x2="450.4" y1="217.1" y2="227.7" stroke="#4f4040" stroke-width="1.05"/>
<rect x="449" y="219.3" width="2.7" height="3.7" fill="#0a750a" stroke="#332a2a" stroke-width="0.55" stroke-opacity="0.8"/>
<line x1="454.2" x2="454.2" y1="217.4" y2="227" stroke="#4f4040" stroke-width="1.05"/>
<rect x="452.9" y="219.7" width="2.7" height="2" fill="#e60505" stroke="#332a2a" stroke-width="0.55" stroke-opacity="0.8"/>
<line x1="458" x2="458" y1="216.3" y2="224.8" stroke="#4f4040" stroke-width="1.05"/>
<rect x="456.7" y="219.3" width="2.7" height="1.1" fill="#5a2626" stroke="#332a2a" stroke-width="0.55" stroke-opacity="0.8"/>
<line x1="461.9" x2="461.9" y1="218.8" y2="226" stroke="#4f4040" stroke-width="1.05"/>
<rect x="460.5" y="219.7" width="2.7" height="1.1" fill="#5a2626" stroke="#332a2a" stroke-width="0.55" stroke-opacity="0.8"/>
<line x1="465.7" x2="465.7" y1="217.1" y2="223.9" stroke="#4f4040" stroke-width="1.05"/>
<rect x="464.3" y="218.8" width="2.7" height="2" fill="#0a750a" stroke="#332a2a" stroke-width="0.55" stroke-opacity="0.8"/>
<line x1="469.5" x2="469.5" y1="217.6" y2="225.6" stroke="#4f4040" stroke-width="1.05"/>
<rect x="468.2" y="218.8" width="2.7" height="3.9" fill="#e60505" stroke="#332a2a" stroke-width="0.55" stroke-opacity="0.8"/>
<line x1="473.4" x2="473.4" y1="218.5" y2="227.3" stroke="#4f4040" stroke-width="1.05"/>
<rect x="472" y="222.6" width="2.7" height="3.1" fill="#e60505" stroke="#332a2a" stroke-width="0.55" stroke-opacity="0.8"/>
<line x1="477.2" x2="477.2" y1="223.9" y2="234.5" stroke="#4f4040" stroke-width="1.05"/>
<rect x="475.8" y="225.3" width="2.7" height="8.3" fill="#e60505" stroke="#332a2a" stroke-width="0.55" stroke-opacity="0.8"/>
<line x1="481" x2="481" y1="229" y2="235" stroke="#4f4040" stroke-width="1.05"/>
<rect x="479.7" y="233.3" width="2.7" height="1.1" fill="#5a2626" stroke="#332a2a" stroke-width="0.55" stroke-opacity="0.8"/>
<line x1="484.8" x2="484.8" y1="225.6" y2="235.8" stroke="#4f4040" stroke-width="1.05"/>
<rect x="483.5" y="227" width="2.7" height="8" fill="#0a750a" stroke="#332a2a" stroke-width="0.55" stroke-opacity="0.8"/>
<line x1="488.7" x2="488.7" y1="221.7" y2="228.7" stroke="#4f4040" stroke-width="1.05"/>
<rect x="487.3" y="224.3" width="2.7" height="3.1" fill="#0a750a" stroke="#332a2a" stroke-width="0.55" stroke-opacity="0.8"/>
<line x1="492.5" x2="492.5" y1="221.7" y2="227.3" stroke="#4f4040" stroke-width="1.05"/>
<rect x="491.1" y="224.4" width="2.7" height="1.1" fill="#5a2626" stroke="#332a2a" stroke-width="0.55" stroke-opacity="0.8"/>
<line x1="496.3" x2="496.3" y1="221.7" y2="228.5" stroke="#4f4040" stroke-width="1.05"/>
<rect x="495" y="223.9" width="2.7" height="1.7" fill="#0a750a" stroke="#332a2a" stroke-width="0.55" stroke-opacity="0.8"/>
<line x1="500.1" x2="500.1" y1="223.9" y2="228.5" stroke="#4f4040" stroke-width="1.05"/>
<rect x="498.8" y="226" width="2.7" height="1.1" fill="#5a2626" stroke="#332a2a" stroke-width="0.55" stroke-opacity="0.8"/>
<line x1="504" x2="504" y1="223.9" y2="231.2" stroke="#4f4040" stroke-width="1.05"/>
<rect x="502.6" y="226.1" width="2.7" height="1.7" fill="#e60505" stroke="#332a2a" stroke-width="0.55" stroke-opacity="0.8"/>
<line x1="507.8" x2="507.8" y1="226.5" y2="232.4" stroke="#4f4040" stroke-width="1.05"/>
<rect x="506.5" y="227.7" width="2.7" height="3.4" fill="#e60505" stroke="#332a2a" stroke-width="0.55" stroke-opacity="0.8"/>
<line x1="511.6" x2="511.6" y1="220" y2="232.2" stroke="#4f4040" stroke-width="1.05"/>
<rect x="510.3" y="220.6" width="2.7" height="10.7" fill="#0a750a" stroke="#332a2a" stroke-width="0.55" stroke-opacity="0.8"/>
<line x1="515.5" x2="515.5" y1="220" y2="229.7" stroke="#4f4040" stroke-width="1.05"/>
<rect x="514.1" y="220.6" width="2.7" height="6.8" fill="#e60505" stroke="#332a2a" stroke-width="0.55" stroke-opacity="0.8"/>
<line x1="519.3" x2="519.3" y1="222" y2="228.8" stroke="#4f4040" stroke-width="1.05"/>
<rect x="517.9" y="226.6" width="2.7" height="1.1" fill="#5a2626" stroke="#332a2a" stroke-width="0.55" stroke-opacity="0.8"/>
<line x1="523.1" x2="523.1" y1="223.7" y2="235.6" stroke="#4f4040" stroke-width="1.05"/>
<rect x="521.8" y="226.6" width="2.7" height="7" fill="#e60505" stroke="#332a2a" stroke-width="0.55" stroke-opacity="0.8"/>
<line x1="526.9" x2="526.9" y1="229.7" y2="241.6" stroke="#4f4040" stroke-width="1.05"/>
<rect x="525.6" y="233.6" width="2.7" height="5.1" fill="#e60505" stroke="#332a2a" stroke-width="0.55" stroke-opacity="0.8"/>
<line x1="530.8" x2="530.8" y1="232.2" y2="239.9" stroke="#4f4040" stroke-width="1.05"/>
<rect x="529.4" y="237.8" width="2.7" height="1.5" fill="#e60505" stroke="#332a2a" stroke-width="0.55" stroke-opacity="0.8"/>
<line x1="534.6" x2="534.6" y1="240.7" y2="250.9" stroke="#4f4040" stroke-width="1.05"/>
<rect x="533.2" y="241.2" width="2.7" height="4.1" fill="#e60505" stroke="#332a2a" stroke-width="0.55" stroke-opacity="0.8"/>
<line x1="538.4" x2="538.4" y1="243.8" y2="251.3" stroke="#4f4040" stroke-width="1.05"/>
<rect x="537.1" y="245" width="2.7" height="3.4" fill="#e60505" stroke="#332a2a" stroke-width="0.55" stroke-opacity="0.8"/>
<line x1="542.3" x2="542.3" y1="245" y2="252.6" stroke="#4f4040" stroke-width="1.05"/>
<rect x="540.9" y="245.5" width="2.7" height="3.7" fill="#0a750a" stroke="#332a2a" stroke-width="0.55" stroke-opacity="0.8"/>
<line x1="546.1" x2="546.1" y1="237.3" y2="245" stroke="#4f4040" stroke-width="1.05"/>
<rect x="544.7" y="243.6" width="2.7" height="1.1" fill="#2c4a2c" stroke="#332a2a" stroke-width="0.55" stroke-opacity="0.8"/>
<line x1="549.9" x2="549.9" y1="240.2" y2="247" stroke="#4f4040" stroke-width="1.05"/>
<rect x="548.6" y="241.2" width="2.7" height="3.2" fill="#0a750a" stroke="#332a2a" stroke-width="0.55" stroke-opacity="0.8"/>
<line x1="553.7" x2="553.7" y1="241.9" y2="259.8" stroke="#4f4040" stroke-width="1.05"/>
<rect x="552.4" y="242.4" width="2.7" height="12.2" fill="#e60505" stroke="#332a2a" stroke-width="0.55" stroke-opacity="0.8"/>
<line x1="557.6" x2="557.6" y1="250.9" y2="260.8" stroke="#4f4040" stroke-width="1.05"/>
<rect x="556.2" y="256" width="2.7" height="2.6" fill="#e60505" stroke="#332a2a" stroke-width="0.55" stroke-opacity="0.8"/>
<line x1="561.4" x2="561.4" y1="255.5" y2="263.7" stroke="#4f4040" stroke-width="1.05"/>
<rect x="560" y="258.1" width="2.7" height="1.7" fill="#e60505" stroke="#332a2a" stroke-width="0.55" stroke-opacity="0.8"/>
<line x1="565.2" x2="565.2" y1="256" y2="267.1" stroke="#4f4040" stroke-width="1.05"/>
<rect x="563.9" y="259.4" width="2.7" height="7.1" fill="#e60505" stroke="#332a2a" stroke-width="0.55" stroke-opacity="0.8"/>
<line x1="569" x2="569" y1="264.9" y2="275.6" stroke="#4f4040" stroke-width="1.05"/>
<rect x="567.7" y="265.7" width="2.7" height="4.8" fill="#e60505" stroke="#332a2a" stroke-width="0.55" stroke-opacity="0.8"/>
<line x1="572.9" x2="572.9" y1="263.3" y2="271.3" stroke="#4f4040" stroke-width="1.05"/>
<rect x="571.5" y="264.2" width="2.7" height="6.3" fill="#0a750a" stroke="#332a2a" stroke-width="0.55" stroke-opacity="0.8"/>
<line x1="576.7" x2="576.7" y1="263.3" y2="274.7" stroke="#4f4040" stroke-width="1.05"/>
<rect x="575.4" y="265.9" width="2.7" height="2" fill="#e60505" stroke="#332a2a" stroke-width="0.55" stroke-opacity="0.8"/>
<line x1="580.5" x2="580.5" y1="261.1" y2="271" stroke="#4f4040" stroke-width="1.05"/>
<rect x="579.2" y="262" width="2.7" height="5.6" fill="#0a750a" stroke="#332a2a" stroke-width="0.55" stroke-opacity="0.8"/>
<line x1="584.4" x2="584.4" y1="259.4" y2="267.1" stroke="#4f4040" stroke-width="1.05"/>
<rect x="583" y="263.7" width="2.7" height="1.2" fill="#2c4a2c" stroke="#332a2a" stroke-width="0.55" stroke-opacity="0.8"/>
<line x1="11" x2="664" y1="190.15" y2="190.15" stroke="#a5cf8a" stroke-width="1"/>
<line x1="11" x2="664" y1="207.5" y2="207.5" stroke="#a5cf8a" stroke-width="1"/>
<text x="673" y="194" font-size="11" fill="#4b9b14">0.5761</text>
<text x="673" y="211" font-size="11" fill="#4b9b14">0.5752</text>
<path d="M14 177.5 L22 177.1 L29 176.5 L36 175.7 L43 175 L50 174.3 L57 173.7 L64 173.5 L71 172.9 L78 171.6 L85 170.1 L92 168.4 L99 167 L100 167.3 L107 165.5 L114 164.4 L121 163.4 L128 162.7 L135 162 L142 161.6 L149 161.3 L156 161.3 L163 161.3 L170 160.9 L177 160.3 L184 159.9 L190 160 L197 159.3 L204 158.3 L211 157.3 L218 156.6 L225 155.8 L232 154.8 L239 154.1 L246 153 L253 151.3 L260 149.9 L267 148.8 L274 148.1 L280 147.9 L288.5 149.2 L297 151.3 L305.5 153 L314 154.7 L322.5 155.9 L331 156.9 L339.5 157.6 L348 157.7 L356.5 158.1 L365 158.4 L370 158.2 L378.5 158.7 L387 159.6 L395.5 160.4 L404 161.6 L412.5 163.3 L421 165.9 L429.5 169.3 L438 173.2 L446.5 176.6 L455 180.8 L463.5 184.6 L470 187.6 L478.4 189.6 L500 195 L518 197.8 L535.8 205 L546 210.1 L554.5 214.4 L563 219.5 L571.5 224 L580 228 L584.3 230" fill="none" stroke="#4a6fa8" stroke-width="1" stroke-opacity="0.88" stroke-linejoin="round"/>
<path d="M14 164.2 L22 164.5 L29 165.6 L36 167 L43 166.7 L50 167 L57 168.7 L64 170.5 L71 171.6 L78 170.9 L85 170.1 L92 167.7 L99 164.6 L107 161.9 L114 159.2 L121 157.8 L128 156.4 L135 154.3 L142 151.9 L149 150.5 L156 151.1 L163 152.5 L170 153.3 L177 153.6 L184 154 L190 153.7 L197 152 L204 151.3 L211 151 L218 150.8 L225 150.6 L232 150.4 L239 150.4 L246 150.3 L253 149.2 L260 147.1 L267 145 L274 143.9 L280 143.3 L288.5 146.2 L297 149.6 L305.5 153.8 L314 157.7 L322.5 162 L331 166.6 L339.5 170.8 L348 174.6 L356.5 177.6 L362.5 178.8 L368.4 175.9 L376 171.5 L381.4 169.3 L387.7 166.1 L394 164.7 L398.6 163.6 L403 163.4 L407.4 164.3 L412 165.6 L416.4 167.4 L421 170.1 L426 174.6 L429.5 177.4 L438 184.7 L446.5 192.7 L461 205.2 L469.5 212 L478 218.8 L486.5 223.1 L495 225.1 L503.5 225.1 L512 225.1 L520.5 225.4 L529 227.1 L537.5 230 L546 232.6 L554.5 234.8 L563 238.2 L571.5 242.8 L580 247.2 L584.3 249.2" fill="none" stroke="#ff8888" stroke-width="1" stroke-opacity="0.88" stroke-linejoin="round"/>
<line x1="11" x2="663.5" y1="236.4" y2="236.4" stroke="#2f6bff" stroke-width="1.25"/>
<path d="M663 236.3 L669.3 229 H734 Q734.5 229 734.5 229.5 V243.3 Q734.5 243.8 734 243.8 H669.3 Z" fill="#1f5cff"/>
<text x="673" y="239.6" font-size="11" fill="#fff">0.5736</text>
<line x1="584.8" x2="663" y1="264" y2="264" stroke="#b5b5b5" stroke-width="1.6" stroke-dasharray="2,2"/>
<path d="M663 264 L669.3 256.7 H734 Q734.5 256.7 734.5 257.2 V270.7 Q734.5 271.2 734 271.2 H669.3 Z" fill="#333"/>
<text x="673" y="267.6" font-size="11" fill="#fff">0.5721</text>
<line x1="11" x2="663.5" y1="301" y2="301" stroke="#f00" stroke-width="2"/>
<path d="M663 300.8 L669.3 293 H735 V308.6 H669.3 Z" fill="#f00"/>
<text x="673" y="303.7" font-size="11" fill="#fff">0.5701</text>
<line x1="11" x2="663.5" y1="318" y2="318" stroke="#f00" stroke-width="2"/>
<path d="M663 318 L669.3 310.3 H735 V325.9 H669.3 Z" fill="#f00"/>
<text x="673" y="321.7" font-size="11" fill="#fff">0.5691</text>
<path d="M588.4 264 L602.8 268 L653 311.3" fill="none" stroke="#2d5f9e" stroke-width="4" stroke-linejoin="miter"/>
<path d="M660.8 317.9 L646.7 314.9 L651 309.5 L655.8 304 Z" fill="#2d5f9e"/>
<line x1="0" x2="738" y1="329.5" y2="329.5" stroke="#e9ecf0"/>
<line x1="0" x2="738" y1="402.5" y2="402.5" stroke="#e9ecf0"/>
<rect x="14" y="342.2" width="12" height="4.6" fill="#4f74e0"/>
<text x="33" y="348" font-size="10" fill="#666">RSI</text>
<rect x="63" y="342.2" width="12" height="4.6" fill="#f00"/>
<text x="82" y="348" font-size="10" fill="#666">9MA</text>
<rect x="14" y="415.2" width="12" height="4.6" fill="#4f74e0"/>
<text x="33" y="421" font-size="10" fill="#666">MACD</text>
<rect x="76" y="415.2" width="12" height="4.6" fill="#4b9b14"/>
<text x="95" y="421" font-size="10" fill="#666">MACD Signal</text>
<line x1="11" x2="664" y1="370.7" y2="370.7" stroke="#b0b0b0" stroke-width="1" stroke-dasharray="1,3"/>
<line x1="11" x2="664" y1="382.5" y2="382.5" stroke="#b0b0b0" stroke-width="1" stroke-dasharray="1,3"/>
<line x1="11" x2="664" y1="394.5" y2="394.5" stroke="#b0b0b0" stroke-width="1" stroke-dasharray="1,3"/>
<line x1="586" x2="664" y1="391.7" y2="391.7" stroke="#7f9be6" stroke-width="1" stroke-dasharray="1,3"/>
<path d="M14.1 359.8 L25.2 360.2 L30.3 362.6 L40.5 361.2 L47.6 361.6 L49.6 363.2 L56.7 363.6 L63.3 367.7 L68.9 366.7 L73 364.8 L79.1 364.6 L83.2 367.7 L91.3 366.7 L97.4 367.7 L102.5 369.7 L109.6 369.3 L115.7 372.4 L123.8 371.7 L132 372.8 L136 372.4 L140.1 374 L144.1 372.4 L149.2 372.8 L150 374.3 L156.1 378.4 L163.2 379.4 L169.3 374.3 L175.4 374.9 L180.5 377 L184.6 378.4 L189.6 375.9 L193.7 372.9 L197.8 372.3 L201.2 370.9 L204.9 375.3 L208.9 377.4 L213.4 385.5 L217.1 384.5 L221.1 380.4 L228.3 378.4 L232.3 383.5 L236.4 382.4 L240.4 385.5 L243.5 382.4 L247.6 377 L251.6 379.4 L255.7 379.8 L260.8 376.3 L265.9 374.7 L270.9 373.7 L275 375.9 L280.1 380.4 L285.2 384.1 L289.2 390.6 L290 391.6 L293.7 395.2 L297.7 388.5 L306.3 388.9 L312.4 388.9 L320.5 389.6 L327.6 387.5 L331.7 381.4 L335.7 381 L339.8 383.5 L343.9 381.8 L347.9 379.4 L352 380.4 L356.1 381.4 L362.2 380.4 L366.2 375.3 L370.3 378 L374.3 378.4 L378.4 379.8 L382.5 384.1 L388.6 383 L392.6 384.9 L399.8 384.1 L404.8 387.5 L409.9 389.1 L415 390.6 L420.1 394.6 L425.2 397.7 L428.2 400.1 L430 399.4 L433.9 392.9 L438.2 390.1 L442.6 392.9 L449.5 388.6 L456 389 L465.8 387.5 L471.2 389.7 L476.6 391.9 L480.9 391.9 L486.4 388 L495 387.5 L501.5 388.6 L507 389.7 L511.7 384.3 L515.6 387.1 L518.9 386.9 L525.4 390.1 L531.9 391.4 L537.3 394 L542.7 391.9 L548.8 389.3 L554.7 394 L561.2 395.1 L568.8 397.7 L573.1 394 L577.4 394.5 L580.7 390.8 L585 391.9" fill="none" stroke="#7f9be6" stroke-width="1" stroke-linejoin="round"/>
<path d="M14.1 356.7 L30.3 359.1 L50.7 361.8 L71 364.6 L91.3 366.3 L101.5 366.7 L111.6 367.9 L132 370.9 L148.2 372.4 L150 372.9 L160.2 374.9 L170.3 375.3 L180.5 376.3 L186.6 377.4 L194.7 375.9 L202.8 375.3 L208.9 375.3 L217.1 377 L225.2 377.8 L231.3 379.4 L237.4 381 L243.5 382 L251.6 380.8 L261.8 380 L269.9 378.4 L276 377 L282.1 377.4 L288.2 378.8 L290 379.8 L300.2 384.5 L310.3 388.5 L320.5 390 L330.7 387.9 L340.8 385.9 L351 383.5 L361.1 381.4 L367.2 380.4 L377.4 379.4 L385.5 380.4 L395.7 380.8 L405.9 383.5 L416 386.5 L424.1 389.6 L430 392.3 L438.7 394.5 L447.3 394.5 L456 392.9 L466.9 389.3 L477.7 389.3 L488.5 389 L499.4 388.6 L508 388.6 L516.7 387.1 L525.4 388 L536.2 389.3 L547.1 390.8 L557.9 392.3 L568.8 394 L577.4 394 L584.4 394" fill="none" stroke="#ff3030" stroke-width="1.05" stroke-linejoin="round"/>
<text x="673" y="374.2" font-size="11" fill="#666">70</text>
<text x="673" y="385.6" font-size="11" fill="#666">50</text>
<rect x="668" y="384.6" width="50" height="12" fill="#fefefe"/>
<text x="673" y="394.4" font-size="11" fill="#4f74d9">34.28</text>
<line x1="586" x2="662" y1="459.3" y2="459.3" stroke="#7f9be6" stroke-width="1" stroke-dasharray="1,3"/>
<path d="M14.1 435.2 L22.2 438.6 L29.3 442.3 L33.4 443.7 L39.5 442.7 L45.6 441.3 L52.7 441.3 L57.8 441.9 L63.9 444.3 L67.9 444.7 L72 442.7 L78.1 437.2 L85.2 435.2 L91.3 432.1 L97.4 430.5 L103.5 430.5 L109.6 430.5 L115.7 432.5 L123.8 433.1 L132 435.2 L140.1 436.6 L149.2 435.8 L150 436.2 L157.1 439.2 L163.2 441.3 L168.3 440.3 L173.4 438.6 L180.5 438.6 L187.6 439.2 L192.7 438.2 L197.8 435.8 L201.8 434.2 L207.9 434.6 L212 437.2 L217.1 439.7 L225.2 439.2 L231.3 439.9 L238.4 442.3 L243.5 442.3 L247.6 439.9 L253.7 438.6 L259.8 436.6 L265.9 433.6 L272 430.7 L277 430.5 L282.1 433.1 L286.2 436.2 L289.2 441.3 L290 441.9 L293 448 L298.1 453.1 L304.2 456.5 L310.3 459 L318.5 460.6 L325.6 460.2 L329.6 457.5 L333.7 454.5 L338.8 452.5 L344.9 449.4 L351 446 L357.1 444.3 L361.1 443.3 L366.2 439.7 L371.3 437.6 L377.4 436.6 L382.5 438.2 L389.6 439.7 L395.7 441.3 L400.8 441.9 L406.9 444.7 L414 448 L420.1 453.5 L424.1 459.6 L428.2 464.7 L430 466.3 L435.4 468.4 L443 468.9 L449.5 466.9 L458.2 464.8 L466.9 461.9 L473.4 460.9 L480.9 461.3 L488.5 458.7 L497.2 456.1 L505.9 454.8 L512.4 452.6 L520 451.5 L527.6 452.6 L534.1 453.7 L540.6 455 L549.2 455 L557.9 457.6 L566.6 459.8 L575.3 460.4 L581.8 459.8 L585 459.3" fill="none" stroke="#7f9be6" stroke-width="1" stroke-linejoin="round"/>
<path d="M14.1 432.1 L24.2 435.6 L34.4 438.8 L44.6 440.3 L56.7 440.9 L68.9 442.7 L77.1 441.9 L87.2 438.6 L97.4 435.2 L107.6 433.1 L115.7 432.1 L125.9 433.1 L138 434.2 L149.2 435.4 L150 435.2 L158.1 437.2 L166.3 438.6 L176.4 438.2 L186.6 438.6 L194.7 438.2 L202.8 436.8 L208.9 436.2 L217.1 437.8 L227.2 438.6 L235.4 439.2 L245.5 440.7 L255.7 439.9 L263.8 437.8 L272 435.2 L278 434.2 L284.1 434.2 L289.2 436.2 L290 436.2 L298.1 442.3 L306.3 448 L314.4 452 L322.5 455.1 L330.7 456.1 L338.8 454.9 L346.9 452.5 L357.1 449.4 L367.2 446 L377.4 442.3 L387.6 440.7 L397.7 440.9 L407.9 442.7 L418 446 L426.2 450.4 L430 453.3 L436.5 458.7 L443 461.9 L451.7 464.1 L462.5 463.7 L473.4 462.6 L484.2 461.3 L495 459.1 L505.9 457 L516.7 455 L527.6 453.9 L538.4 454.4 L549.2 454.4 L560.1 455.9 L570.9 457.6 L579.6 458.7 L584.4 459.1" fill="none" stroke="#58aa28" stroke-width="1.05" stroke-linejoin="round"/>
<text x="673" y="445.3" font-size="11" fill="#666">0</text>
<text x="673" y="463" font-size="11" fill="#4f74d9">-0.00</text>
<g clip-path="url(#cm)"><text x="673" y="473.7" font-size="11" fill="#666">-0</text></g>
<path d="M11 477 V471 H664 V477" fill="none" stroke="#a8a8a8" stroke-width="2"/>
<text x="144" y="488" font-size="11" fill="#6e6e6e" text-anchor="middle">Oct 29</text>
<text x="328" y="488" font-size="11" fill="#6e6e6e" text-anchor="middle">Oct 30</text>
<text x="511" y="488" font-size="11" fill="#6e6e6e" text-anchor="middle">Oct 31</text>
<text x="588" y="488" font-size="11" fill="#6e6e6e" text-anchor="middle">Nov 1</text>
<text x="653.2" y="488" font-size="11" fill="#6e6e6e" text-anchor="middle">Nov 18</text>
</svg></body></html>
